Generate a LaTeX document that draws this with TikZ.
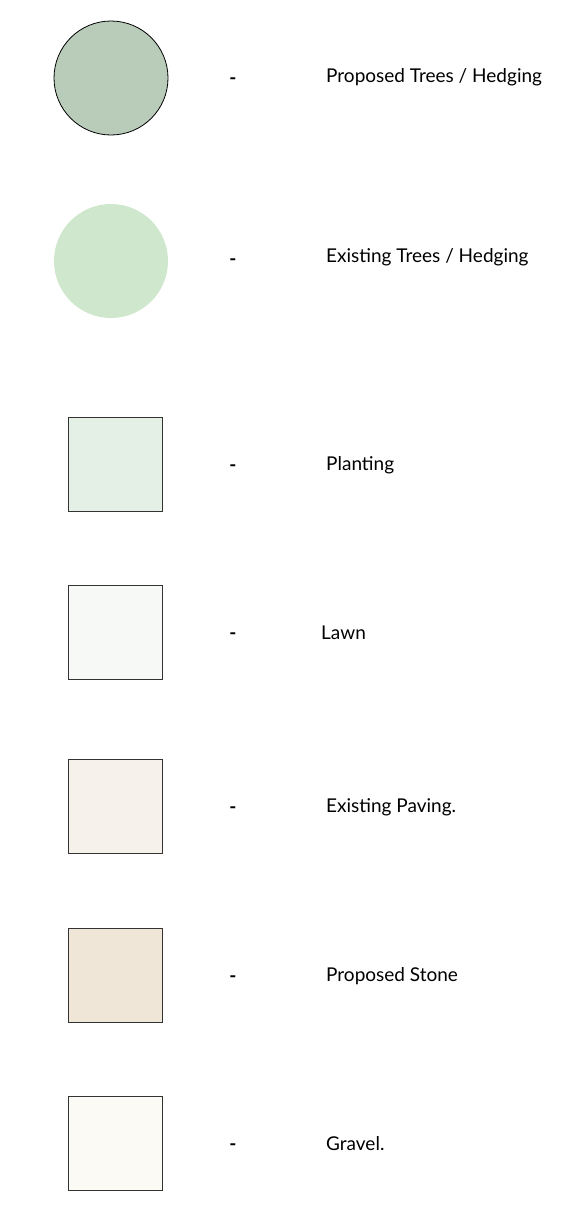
\documentclass[tikz,border=0pt]{standalone}
\usepackage{fontspec}
\setmainfont{Lato}
\usetikzlibrary{positioning}

\definecolor{treeNew}{HTML}{B9CCBA}
\definecolor{treeOld}{HTML}{CFE7CD}
\definecolor{planting}{HTML}{E4F0E5}
\definecolor{lawn}{HTML}{F6F9F5}
\definecolor{paving}{HTML}{F6F1EA}
\definecolor{stone}{HTML}{F0E6D8}
\definecolor{gravel}{HTML}{FBFAF4}

\tikzset{
  swatch/.style={draw=black!80, line width=0.8pt, minimum size=94pt, inner sep=0pt},
  treedot/.style={circle, minimum size=114pt, inner sep=0pt},
  sep/.style={font=\fontsize{19}{22}\selectfont\bfseries},
  lab/.style={anchor=west, inner sep=0pt, font=\fontsize{19}{22}\selectfont}
}

\begin{document}
\begin{tikzpicture}[x=1pt, y=-1pt]
  \useasboundingbox (0,0) rectangle (573,1213);

  % Trees / hedging
  \node[treedot, fill=treeNew, draw=black, line width=0.8pt] (propTree) at (111,78) {};
  \node[sep] (propTreeSep) at (233,81) {-};
  \node[lab] (propTreeLab) at (326,77) {Proposed Trees / Hedging};

  \node[treedot, fill=treeOld] (oldTree) at (111,261) {};
  \node[sep] (oldTreeSep) at (233,262) {-};
  \node[lab] (oldTreeLab) at (326,257) {Existing Trees / Hedging};

  % Surface finishes
  \foreach \y/\col/\id/\lx/\txt in {464/planting/plant/326/Planting,
                                     632/lawn/lawn/321/Lawn,
                                     806/paving/pave/326/Existing Paving.,
                                     975/stone/stone/326/Proposed Stone,
                                     1143/gravel/grav/326/Gravel.} {
    \node[swatch, fill=\col] (\id) at (115,\y) {};
    \node[sep] (\id Sep) at (233,\y+4) {-};
    \node[lab] (\id Lab) at (\lx,\y+1) {\txt};
  }
\end{tikzpicture}
\end{document}
